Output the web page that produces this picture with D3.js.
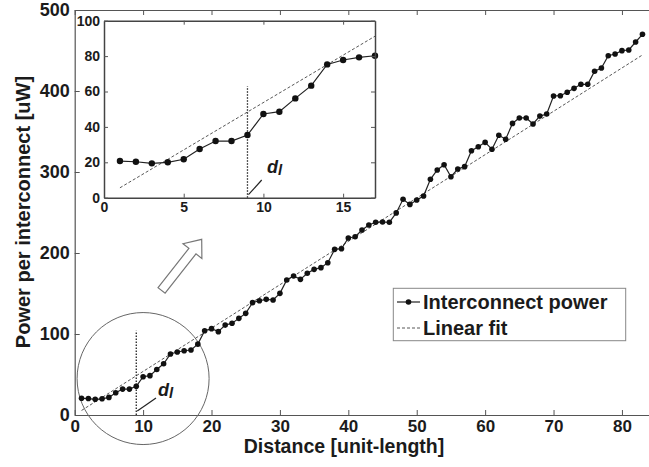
<!DOCTYPE html>
<html>
<head>
<meta charset="utf-8">
<script src="https://cdn.jsdelivr.net/npm/d3@7/dist/d3.min.js"></script>
<style>
    body { margin: 0; background: #fff; }
    svg text { font-family: "Liberation Sans", Arial, sans-serif; font-weight: bold; fill: #1b1b1b; }
</style>
</head>
<body>
<div id="chart"></div>
<script>
// distance in unit-length, power per interconnect in uW
const distance = [
    1, 2, 3, 4, 5, 6, 7, 8, 9, 10, 11, 12, 13, 14, 15, 16, 17, 18, 19, 20,
    21, 22, 23, 24, 25, 26, 27, 28, 29, 30, 31, 32, 33, 34, 35, 36, 37, 38, 39, 40,
    41, 42, 43, 44, 45, 46, 47, 48, 49, 50, 51, 52, 53, 54, 55, 56, 57, 58, 59, 60,
    61, 62, 63, 64, 65, 66, 67, 68, 69, 70, 71, 72, 73, 74, 75, 76, 77, 78, 79, 80,
    81, 82, 83
];
const power = [
    20.7, 20.3, 19.4, 20.0, 21.7, 27.5, 32.0, 32.0, 35.4, 47.3, 48.6, 56.1, 63.3, 75.3, 77.8, 79.3, 80.2, 87.5, 104, 106.6,
    102.9, 111, 113.2, 119.3, 125.5, 138.7, 141.1, 142.8, 142, 150.2, 166.7, 171.6, 167.5, 175, 179.8, 181.9, 188, 204.5, 205.3, 218.5,
    220.1, 228.4, 234.6, 237.9, 238.3, 237.9, 249.5, 266.3, 260, 265.4, 270.4, 291, 302.5, 309, 294.2, 303.7, 306.6, 326.3, 331.2, 336.6,
    328, 345.3, 340.5, 360, 366.7, 366.7, 359.3, 369, 371.6, 393.8, 394.2, 398.4, 403.3, 408.3, 408.3, 424.3, 428.4, 443.6, 445.7, 449.8,
    450.6, 460.5, 470
];
// linear fit end points
const fitX = [1, 83];
const fitY = [5.6, 444.5];

const xTicks = [0, 10, 20, 30, 40, 50, 60, 70, 80];
const yTicks = [0, 100, 200, 300, 400, 500];
const insetXTicks = [0, 5, 10, 15];
const insetYTicks = [0, 20, 40, 60, 80, 100];
const legendLabels = ['Interconnect power', 'Linear fit'];

// d_l marker: distance and top of the dotted line
const dl = 9;
const dlTopMain = 104;
const dlTopInset = 63;

const width = 649, height = 467;
const axisColor = '#555';
const lineColor = '#222';

const svg = d3.select('#chart')
    .append('svg')
    .attr('width', width)
    .attr('height', height);

const x = d3.scaleLinear().domain([0, 84]).range([74.7, 649.3]);
const y = d3.scaleLinear().domain([0, 500]).range([415, 10]);

const points = distance.map((d, i) => ({ d: d, p: power[i] }));
const fit = fitX.map((d, i) => ({ d: d, p: fitY[i] }));

function styleAxis(g, size) {
    g.select('.domain').attr('stroke', axisColor).attr('stroke-width', 1.2);
    g.selectAll('.tick line').attr('stroke', axisColor).attr('stroke-width', 1);
    g.selectAll('.tick text')
        .attr('fill', '#1b1b1b')
        .style('font-size', size + 'px')
        .style('font-family', '"Liberation Sans", Arial, sans-serif')
        .style('font-weight', 'bold');
}

// main axes, MATLAB style box with inward ticks
svg.append('g')
    .attr('transform', `translate(0, ${y(0)})`)
    .call(d3.axisBottom(x).tickValues(xTicks).tickSizeInner(-5).tickSizeOuter(0).tickPadding(5))
    .call(g => styleAxis(g, 17));

svg.append('g')
    .attr('transform', `translate(0, ${y(500)})`)
    .call(d3.axisTop(x).tickValues(xTicks).tickSizeInner(-5).tickSizeOuter(0).tickFormat(''))
    .call(g => styleAxis(g, 17));

svg.append('g')
    .attr('transform', `translate(${x(0)}, 0)`)
    .call(d3.axisLeft(y).tickValues(yTicks).tickSizeInner(-5).tickSizeOuter(0).tickPadding(5))
    .call(g => styleAxis(g, 18));

// axis titles
svg.append('text')
    .attr('x', 344)
    .attr('y', 453)
    .attr('text-anchor', 'middle')
    .style('font-size', '19.5px')
    .text('Distance [unit-length]');

svg.append('text')
    .attr('transform', 'translate(30, 212) rotate(-90)')
    .attr('text-anchor', 'middle')
    .style('font-size', '20px')
    .text('Power per interconnect [uW]');

// zoom circle round the start of the curve
svg.append('circle')
    .attr('cx', x(10))
    .attr('cy', y(45))
    .attr('r', 66)
    .attr('fill', 'none')
    .attr('stroke', '#666')
    .attr('stroke-width', 1);

// linear fit
const line = d3.line().x(d => x(d.d)).y(d => y(d.p));

svg.append('path')
    .datum(fit)
    .attr('fill', 'none')
    .attr('stroke', '#444')
    .attr('stroke-width', 0.9)
    .attr('stroke-dasharray', '3,2')
    .attr('d', line);

// d_l dotted line
svg.append('line')
    .attr('x1', x(dl)).attr('x2', x(dl))
    .attr('y1', y(0)).attr('y2', y(dlTopMain))
    .attr('stroke', lineColor)
    .attr('stroke-width', 1.3)
    .attr('stroke-dasharray', '1.5,1.5');

svg.append('path')
    .datum(points)
    .attr('fill', 'none')
    .attr('stroke', lineColor)
    .attr('stroke-width', 1.2)
    .attr('d', line);

svg.selectAll('.dot')
    .data(points)
    .enter()
    .append('circle')
    .attr('class', 'dot')
    .attr('cx', d => x(d.d))
    .attr('cy', d => y(d.p))
    .attr('r', 2.8)
    .attr('fill', '#111');

function dlLabel(g, tx, ty, lx1, ly1, lx2, ly2) {
    g.append('line')
        .attr('x1', lx1).attr('y1', ly1)
        .attr('x2', lx2).attr('y2', ly2)
        .attr('stroke', lineColor)
        .attr('stroke-width', 1.2);
    const t = g.append('text')
        .attr('x', tx)
        .attr('y', ty)
        .style('font-size', '18px')
        .style('font-style', 'italic');
    t.append('tspan').text('d');
    t.append('tspan').attr('dy', 2).style('font-size', '15px').text('l');
}

dlLabel(svg, 158, 396, x(dl) + 1, y(0) - 4, 156, 398);

// hollow arrow pointing to the inset
const tip = [201.7, 239.3];
const ang = Math.atan2(-0.79, 0.62);
const ux = Math.cos(ang), uy = Math.sin(ang);
const nx = -uy, ny = ux;
const headLen = 15, headHalf = 12, shaftHalf = 4.5, shaftLen = 50;
const bx = tip[0] - ux * headLen, by = tip[1] - uy * headLen;
const tx0 = bx - ux * shaftLen, ty0 = by - uy * shaftLen;
const arrowPts = [
    tip,
    [bx + nx * headHalf, by + ny * headHalf],
    [bx + nx * shaftHalf, by + ny * shaftHalf],
    [tx0 + nx * shaftHalf, ty0 + ny * shaftHalf],
    [tx0 - nx * shaftHalf, ty0 - ny * shaftHalf],
    [bx - nx * shaftHalf, by - ny * shaftHalf],
    [bx - nx * headHalf, by - ny * headHalf]
];
svg.append('path')
    .attr('d', 'M' + arrowPts.map(p => p.join(',')).join('L') + 'Z')
    .attr('fill', '#fff')
    .attr('stroke', '#777')
    .attr('stroke-width', 1.2);

// inset
const ix = d3.scaleLinear().domain([0, 17]).range([104, 375]);
const iy = d3.scaleLinear().domain([0, 100]).range([197.7, 20.7]);

svg.append('rect')
    .attr('x', ix(0)).attr('y', iy(100))
    .attr('width', ix(17) - ix(0))
    .attr('height', iy(0) - iy(100))
    .attr('fill', '#fff');

svg.append('clipPath')
    .attr('id', 'inset-clip')
    .append('rect')
    .attr('x', ix(0)).attr('y', iy(100))
    .attr('width', ix(17) - ix(0))
    .attr('height', iy(0) - iy(100));

const inset = svg.append('g');
const insetPlot = inset.append('g').attr('clip-path', 'url(#inset-clip)');
const iline = d3.line().x(d => ix(d.d)).y(d => iy(d.p));
const insetPoints = points.filter(d => d.d <= 17);

insetPlot.append('path')
    .datum(fit)
    .attr('fill', 'none')
    .attr('stroke', '#444')
    .attr('stroke-width', 0.9)
    .attr('stroke-dasharray', '3,2')
    .attr('d', iline);

inset.append('line')
    .attr('x1', ix(dl)).attr('x2', ix(dl))
    .attr('y1', iy(0)).attr('y2', iy(dlTopInset))
    .attr('stroke', lineColor)
    .attr('stroke-width', 1.3)
    .attr('stroke-dasharray', '1.5,1.5');

insetPlot.append('path')
    .datum(insetPoints)
    .attr('fill', 'none')
    .attr('stroke', lineColor)
    .attr('stroke-width', 1.2)
    .attr('d', iline);

inset.selectAll('.idot')
    .data(insetPoints)
    .enter()
    .append('circle')
    .attr('class', 'idot')
    .attr('cx', d => ix(d.d))
    .attr('cy', d => iy(d.p))
    .attr('r', 3.2)
    .attr('fill', '#111');

inset.append('g')
    .attr('transform', `translate(0, ${iy(0)})`)
    .call(d3.axisBottom(ix).tickValues(insetXTicks).tickSizeInner(-4).tickSizeOuter(0).tickPadding(4))
    .call(g => styleAxis(g, 14));
inset.append('g')
    .attr('transform', `translate(0, ${iy(100)})`)
    .call(d3.axisTop(ix).tickValues(insetXTicks).tickSizeInner(-4).tickSizeOuter(0).tickFormat(''))
    .call(g => styleAxis(g, 14));
inset.append('g')
    .attr('transform', `translate(${ix(0)}, 0)`)
    .call(d3.axisLeft(iy).tickValues(insetYTicks).tickSizeInner(-4).tickSizeOuter(0).tickPadding(4))
    .call(g => styleAxis(g, 14));
inset.append('g')
    .attr('transform', `translate(${ix(17)}, 0)`)
    .call(d3.axisRight(iy).tickValues(insetYTicks).tickSizeInner(-4).tickSizeOuter(0).tickFormat(''))
    .call(g => styleAxis(g, 14));
inset.selectAll('.domain').attr('stroke', '#444').attr('stroke-width', 1.5);

dlLabel(inset, 267, 173, ix(dl) + 1, iy(0) - 3, 261.7, 180);

// legend
const legend = svg.append('g');
legend.append('rect')
    .attr('x', 393.3).attr('y', 288.3)
    .attr('width', 232.4).attr('height', 52.4)
    .attr('fill', '#fff')
    .attr('stroke', '#888')
    .attr('stroke-width', 1);

legendLabels.forEach((label, i) => {
    const ly = 302 + i * 26;
    legend.append('line')
        .attr('x1', 397).attr('x2', 420)
        .attr('y1', ly).attr('y2', ly)
        .attr('stroke', i === 0 ? lineColor : '#444')
        .attr('stroke-width', i === 0 ? 1.2 : 0.9)
        .attr('stroke-dasharray', i === 0 ? null : '3,2');
    if (i === 0) {
        legend.append('circle')
            .attr('cx', 408.5).attr('cy', ly)
            .attr('r', 2.8)
            .attr('fill', '#111');
    }
    legend.append('text')
        .attr('x', 423)
        .attr('y', ly + 7.3)
        .style('font-size', '20px')
        .text(label);
});
</script>
</body>
</html>
